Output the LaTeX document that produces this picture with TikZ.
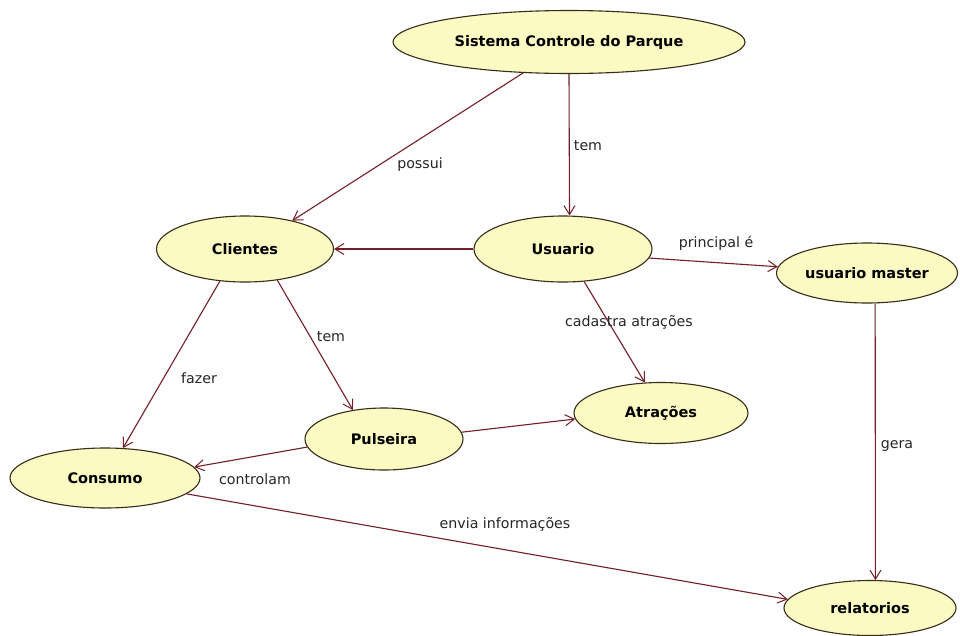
\documentclass[tikz,border=0pt]{standalone}
\usepackage{fontspec}
\setmainfont{DejaVu Sans}
\usetikzlibrary{shapes.geometric,arrows.meta}
\definecolor{conceptfill}{RGB}{252,250,195}
\definecolor{conceptline}{RGB}{55,45,25}
\definecolor{linkcolor}{RGB}{115,30,40}
\tikzset{
  concept/.style={ellipse, draw=conceptline, line width=1.1pt, fill=conceptfill,
    inner sep=0pt, font=\fontsize{14.5}{17}\selectfont\bfseries},
  link/.style={draw=linkcolor, line width=1.1pt,
    -{Straight Barb[length=9pt,width=11pt,line width=1pt]}},
  linklabel/.style={font=\fontsize{14.2}{17}\selectfont, text=black!85, inner sep=1pt}
}
\begin{document}
\begin{tikzpicture}[x=1pt,y=-1pt]
\useasboundingbox[fill=white] (0,0) rectangle (960,635);

% concepts
\node[concept, minimum width=352, minimum height=63] (sis) at (569,42) {Sistema Controle do Parque};
\node[concept, minimum width=177, minimum height=66] (cli) at (245,249) {Clientes};
\node[concept, minimum width=178, minimum height=66] (usu) at (563,249) {Usuario};
\node[concept, minimum width=181, minimum height=60] (mst) at (867,273) {usuario master};
\node[concept, minimum width=174, minimum height=61] (atr) at (661,413) {Atrações};
\node[concept, minimum width=158, minimum height=62] (pul) at (384,439) {Pulseira};
\node[concept, minimum width=190, minimum height=60] (con) at (105,478) {Consumo};
\node[concept, minimum width=172, minimum height=55] (rel) at (870,608) {relatorios};

% links
\draw[link] (sis.214.3) -- (cli.31.7);
\draw[link] (sis.270) -- (usu.79.7);
\draw[link] (usu.180) -- (cli.0);
\draw[link] (usu.354.9) -- (mst.176.2);
\draw[link] (usu.303.7) -- (atr.118);
\draw[link] (cli.232.9) -- (con.59.9);
\draw[link] (cli.316.7) -- (pul.137.8);
\draw[link] (pul.5.1) -- (atr.184.5);
\draw[link] (pul.186.5) -- (con.7.3);
\draw[link] (con.349.5) -- (rel.174.6);
\draw[link] (mst.285) -- (rel.79.9);

% link labels
\node[linklabel] (lpossui) at (420,165) {possui};
\node[linklabel] (ltem1) at (588,146) {tem};
\node[linklabel] (lprinc) at (716,243) {principal é};
\node[linklabel] (lcad) at (629,322) {cadastra atrações};
\node[linklabel] (lfazer) at (199,378) {fazer};
\node[linklabel] (ltem2) at (331,337) {tem};
\node[linklabel] (lctrl) at (255,479) {controlam};
\node[linklabel] (lenvia) at (505,524) {envia informações};
\node[linklabel] (lgera) at (897,446) {gera};
\end{tikzpicture}
\end{document}
